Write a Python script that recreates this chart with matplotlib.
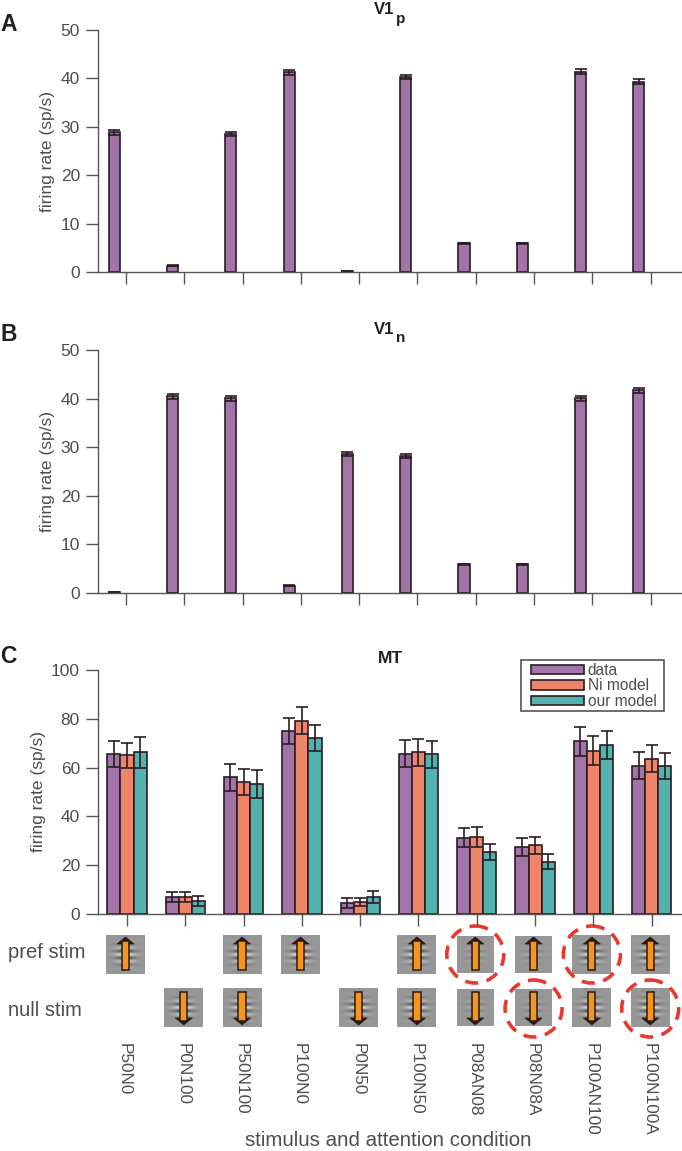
import matplotlib
matplotlib.use('Agg')
import matplotlib.pyplot as plt
import numpy as np
from matplotlib.patches import Ellipse, FancyArrow, Rectangle

plt.rcParams['font.family'] = ['Liberation Sans', 'DejaVu Sans']

conditions = ['P50N0', 'P0N100', 'P50N100', 'P100N0', 'P0N50',
              'P100N50', 'P08AN08', 'P08N08A', 'P100AN100', 'P100N100A']

v1p_rate = [28.9, 1.3, 28.5, 41.3, 0.2, 40.3, 5.9, 5.9, 41.4, 39.3]
v1p_err = [0.5, 0.1, 0.5, 0.5, 0.1, 0.5, 0.15, 0.15, 0.5, 0.5]
v1n_rate = [0.2, 40.5, 40.1, 1.5, 28.6, 28.2, 5.9, 5.9, 40.1, 41.7]
v1n_err = [0.1, 0.5, 0.5, 0.1, 0.5, 0.5, 0.15, 0.15, 0.5, 0.5]

mt_data = [65.7, 7.0, 56.0, 75.0, 4.5, 65.7, 31.3, 27.3, 70.7, 60.8]
mt_ni = [65.0, 7.0, 54.0, 79.3, 5.0, 66.3, 31.5, 28.2, 67.0, 63.6]
mt_ours = [66.2, 5.3, 53.3, 72.0, 7.0, 65.5, 25.5, 21.5, 69.2, 60.7]
mt_data_err = [5.3, 2.0, 5.5, 5.4, 2.0, 5.6, 4.0, 3.7, 6.0, 5.5]
mt_ni_err = [5.2, 2.0, 5.3, 5.6, 1.7, 5.6, 4.0, 3.5, 6.0, 5.6]
mt_ours_err = [6.3, 2.2, 5.6, 5.4, 2.3, 5.5, 3.3, 3.0, 5.7, 5.2]

pref_shown = [1, 0, 1, 1, 0, 1, 1, 1, 1, 1]
null_shown = [0, 1, 1, 0, 1, 1, 1, 1, 1, 1]
pref_attended = [0, 0, 0, 0, 0, 0, 1, 0, 1, 0]
null_attended = [0, 0, 0, 0, 0, 0, 0, 1, 0, 1]
small_stim = [0, 0, 0, 0, 0, 0, 1, 1, 0, 0]

PURPLE = '#a274a8'
ORANGE = '#ee8468'
TEAL = '#52b3ae'
DARK = '#2a1c26'
GREY = '#555555'
TEXT = '#4d4d4d'
INK = '#231f20'

W, H = 682, 1151
fig = plt.figure(figsize=(W / 100, H / 100), dpi=100)


def make_axes(left, top, bottom, xlim, ymax, ystep, label_x):
    ax = fig.add_axes([left / W, 1 - bottom / H, (W - left) / W, (bottom - top) / H])
    ax.set_xlim(*xlim)
    ax.set_ylim(0, ymax)
    ax.set_yticks(np.arange(0, ymax + 1, ystep))
    ax.set_xticks(range(10))
    ax.set_xticklabels([])
    ax.patch.set_alpha(0)
    for s in ['top', 'right']:
        ax.spines[s].set_visible(False)
    for s in ['left', 'bottom']:
        ax.spines[s].set_color(GREY)
        ax.spines[s].set_linewidth(1.0)
    ax.tick_params(length=8.5, width=1.0, color=GREY, labelcolor=TEXT,
                   labelsize=12.5, pad=4.5)
    ax.set_ylabel('firing rate (sp/s)', fontsize=12.5, color=TEXT)
    ax.yaxis.set_label_coords((label_x - left) / (W - left), 0.5)
    return ax


def draw_bars(ax, x, values, errs, color, width, label=None):
    return ax.bar(x, values, width, color=color, edgecolor=DARK, linewidth=1.2,
                  yerr=errs, error_kw=dict(ecolor=DARK, elinewidth=1.2,
                                           capsize=4, capthick=1.2),
                  label=label)


pos = np.arange(10)

ax_a = make_axes(98, 30, 272, (-0.48, 9.54), 50, 10, 55)
draw_bars(ax_a, pos - 0.2, v1p_rate, v1p_err, PURPLE, 0.19)

ax_b = make_axes(98, 350, 593, (-0.48, 9.54), 50, 10, 55)
draw_bars(ax_b, pos - 0.2, v1n_rate, v1n_err, PURPLE, 0.19)

ax_c = make_axes(98, 670, 914, (-0.497, 9.52), 100, 20, 46)
bw = 0.225
draw_bars(ax_c, pos - bw, mt_data, mt_data_err, PURPLE, bw, 'data')
draw_bars(ax_c, pos, mt_ni, mt_ni_err, ORANGE, bw, 'Ni model')
draw_bars(ax_c, pos + bw, mt_ours, mt_ours_err, TEAL, bw, 'our model')

leg = ax_c.legend(loc='upper left', bbox_to_anchor=(531 / W, 1 - 663 / H),
                  bbox_transform=fig.transFigure, fontsize=11.2, frameon=False,
                  borderaxespad=0, borderpad=0, handlelength=3.4,
                  handleheight=0.6, handletextpad=0.25, labelspacing=0.03)
for t in leg.get_texts():
    t.set_color(TEXT)

# everything below is placed in pixel coordinates of the figure
over = fig.add_axes([0, 0, 1, 1], zorder=-1)
over.axis('off')

over.add_patch(Rectangle((521, 660), 143, 51, facecolor='white', edgecolor=GREY,
                         linewidth=1.2))

yy, xx = np.mgrid[-1:1:80j, -1:1:80j]
stripes = np.cos(yy * 17.5) * np.exp(-(xx / 0.48) ** 2 - (yy / 0.5) ** 2)


def draw_stim(x, y, up, small):
    half = 18.5 if small else 19.5
    amp = 0.1 if small else 0.36
    over.imshow(0.59 + amp * stripes, extent=(x - half, x + half, y + half, y - half),
                cmap='gray', vmin=0, vmax=1, aspect='auto',
                interpolation='bilinear', zorder=1)
    sign = -1 if up else 1
    over.add_patch(FancyArrow(x, y + sign * 6, 0, sign * 11, width=1, head_width=17,
                              head_length=7, length_includes_head=True,
                              facecolor='#2b1a10', edgecolor='#2b1a10',
                              linewidth=0.5, zorder=2))
    y0 = y - sign * 16
    over.add_patch(Rectangle((x - 3.6, min(y0, y0 + sign * 29)), 7.2, 29,
                             facecolor='#f7941d', edgecolor='#2b1a10',
                             linewidth=1.1, zorder=3))


for i in range(10):
    px = ax_c.transData.transform((i, 0))[0] - 1.5
    if pref_shown[i]:
        draw_stim(px, 954, True, small_stim[i])
    if null_shown[i]:
        draw_stim(px, 1008, False, small_stim[i])
    if pref_attended[i]:
        over.add_patch(Ellipse((px, 954.5), 57, 57, fill=False, edgecolor='#e8392e',
                               linewidth=2.6, linestyle=(0, (3.6, 2.4)), zorder=4))
    if null_attended[i]:
        over.add_patch(Ellipse((px, 1008.5), 57, 57, fill=False, edgecolor='#e8392e',
                               linewidth=2.6, linestyle=(0, (3.6, 2.4)), zorder=4))
    over.text(px - 1, 1043, conditions[i], rotation=-90, ha='center', va='top',
              fontsize=12.4, color=TEXT)

over.set_xlim(0, W)
over.set_ylim(H, 0)

over.text(8, 952, 'pref stim', fontsize=14.5, color=TEXT, va='center')
over.text(8, 1010, 'null stim', fontsize=14.5, color=TEXT, va='center')
over.text(388, 1140, 'stimulus and attention condition', fontsize=14.8, color=TEXT,
          ha='center', va='center')

over.text(0, 24, 'A', fontsize=16.5, fontweight='bold', color=INK, va='center')
over.text(0, 334, 'B', fontsize=16.5, fontweight='bold', color=INK, va='center')
over.text(0, 656, 'C', fontsize=16.5, fontweight='bold', color=INK, va='center')

over.text(374, 9, 'V1', fontsize=12, fontweight='bold', color=INK, va='center')
over.text(396, 19, 'p', fontsize=11, fontweight='bold', color=INK, va='center')
over.text(374, 329, 'V1', fontsize=12, fontweight='bold', color=INK, va='center')
over.text(396, 338, 'n', fontsize=11, fontweight='bold', color=INK, va='center')
over.text(390, 658, 'MT', fontsize=12.5, fontweight='bold', color=INK,
          ha='center', va='center')

fig.savefig('out.png', dpi=100)
